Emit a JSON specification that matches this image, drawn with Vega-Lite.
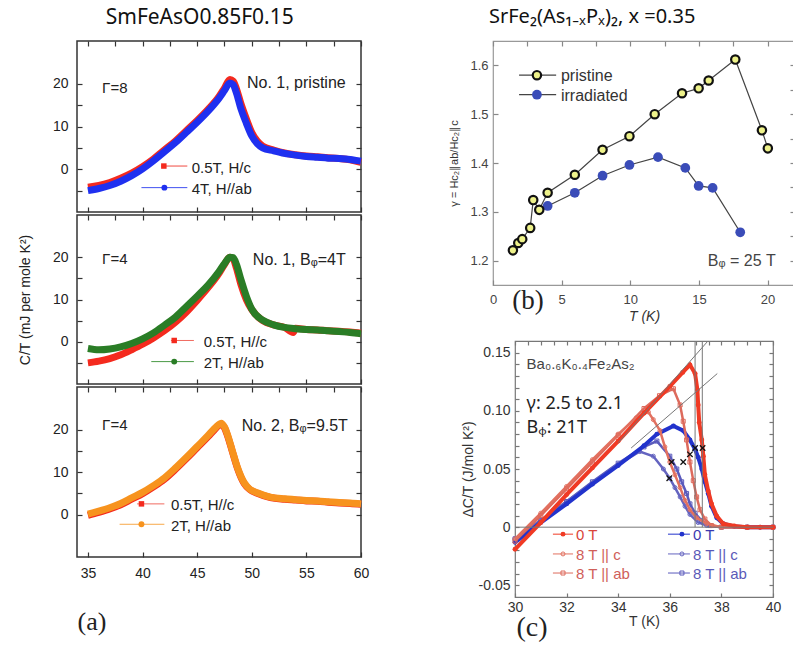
{
"$schema": "https://vega.github.io/schema/vega-lite/v6.json",
"autosize": {"type": "none"},
"padding": {"left": 77, "top": 41, "right": 716, "bottom": 604},
"background": "white",
"config": {
  "axis": {"domain": false, "grid": false, "labelFont": "Liberation Sans", "titleFont": "Liberation Sans", "titleFontWeight": "normal", "labelOverlap": false, "labelFlush": false, "tickSize": 5, "tickWidth": 1.2, "ticks": true},
  "text": {"font": "Liberation Sans"},
  "title": {"font": "Noto Sans", "fontWeight": "normal", "color": "#111"}
},
"datasets": {
  "a1": [
    {"s":"r","T":35,"v":-4.2},{"s":"r","T":36,"v":-3.8},{"s":"r","T":37,"v":-3.1},{"s":"r","T":38,"v":-2.1},{"s":"r","T":39,"v":-0.9},{"s":"r","T":40,"v":0.6},{"s":"r","T":41,"v":2.4},{"s":"r","T":42,"v":4.5},{"s":"r","T":43,"v":6.6},{"s":"r","T":44,"v":9.0},{"s":"r","T":45,"v":11.4},{"s":"r","T":46,"v":14.0},{"s":"r","T":47,"v":17.0},{"s":"r","T":47.5,"v":19.0},{"s":"r","T":48,"v":21.0},{"s":"r","T":48.3,"v":20.6},{"s":"r","T":48.6,"v":18.8},{"s":"r","T":49,"v":15.4},{"s":"r","T":49.5,"v":11.8},{"s":"r","T":50,"v":8.6},{"s":"r","T":50.5,"v":6.6},{"s":"r","T":51,"v":5.4},{"s":"r","T":52,"v":4.5},{"s":"r","T":53,"v":3.8},{"s":"r","T":54,"v":3.4},{"s":"r","T":55,"v":3.1},{"s":"r","T":56,"v":2.9},{"s":"r","T":57,"v":2.7},{"s":"r","T":58,"v":2.5},{"s":"r","T":59,"v":2.2},{"s":"r","T":60,"v":1.6},
    {"s":"b","T":35,"v":-5.0},{"s":"b","T":36,"v":-4.5},{"s":"b","T":37,"v":-3.8},{"s":"b","T":38,"v":-2.8},{"s":"b","T":39,"v":-1.5},{"s":"b","T":40,"v":0.1},{"s":"b","T":41,"v":2.0},{"s":"b","T":42,"v":4.1},{"s":"b","T":43,"v":6.2},{"s":"b","T":44,"v":8.6},{"s":"b","T":45,"v":11.0},{"s":"b","T":46,"v":13.6},{"s":"b","T":47,"v":16.6},{"s":"b","T":47.5,"v":18.4},{"s":"b","T":48,"v":20.2},{"s":"b","T":48.3,"v":19.8},{"s":"b","T":48.6,"v":17.8},{"s":"b","T":49,"v":14.2},{"s":"b","T":49.5,"v":10.8},{"s":"b","T":50,"v":7.8},{"s":"b","T":50.5,"v":6.0},{"s":"b","T":51,"v":5.0},{"s":"b","T":52,"v":4.3},{"s":"b","T":53,"v":3.7},{"s":"b","T":54,"v":3.3},{"s":"b","T":55,"v":3.0},{"s":"b","T":56,"v":2.8},{"s":"b","T":57,"v":2.6},{"s":"b","T":58,"v":2.5},{"s":"b","T":59,"v":2.3},{"s":"b","T":60,"v":1.9}
  ],
  "a2": [
    {"s":"r","T":35,"v":-5.0},{"s":"r","T":36,"v":-4.6},{"s":"r","T":37,"v":-4.0},{"s":"r","T":38,"v":-3.1},{"s":"r","T":39,"v":-1.9},{"s":"r","T":40,"v":-0.6},{"s":"r","T":41,"v":0.9},{"s":"r","T":42,"v":2.6},{"s":"r","T":43,"v":4.6},{"s":"r","T":44,"v":7.0},{"s":"r","T":45,"v":9.8},{"s":"r","T":46,"v":12.8},{"s":"r","T":47,"v":16.2},{"s":"r","T":47.5,"v":18.3},{"s":"r","T":48,"v":20.0},{"s":"r","T":48.3,"v":19.6},{"s":"r","T":48.6,"v":17.4},{"s":"r","T":49,"v":13.6},{"s":"r","T":49.5,"v":10.0},{"s":"r","T":50,"v":7.6},{"s":"r","T":51,"v":5.0},{"s":"r","T":52,"v":4.0},{"s":"r","T":53,"v":3.4},{"s":"r","T":53.8,"v":2.2},{"s":"r","T":54,"v":3.2},{"s":"r","T":55,"v":2.9},{"s":"r","T":56,"v":2.8},{"s":"r","T":57,"v":2.6},{"s":"r","T":58,"v":2.5},{"s":"r","T":59,"v":2.3},{"s":"r","T":60,"v":2.0},
    {"s":"g","T":35,"v":-1.6},{"s":"g","T":36,"v":-1.9},{"s":"g","T":37,"v":-1.7},{"s":"g","T":38,"v":-1.2},{"s":"g","T":39,"v":-0.4},{"s":"g","T":40,"v":0.7},{"s":"g","T":41,"v":2.1},{"s":"g","T":42,"v":3.9},{"s":"g","T":43,"v":5.8},{"s":"g","T":44,"v":8.3},{"s":"g","T":45,"v":10.8},{"s":"g","T":46,"v":13.4},{"s":"g","T":47,"v":16.6},{"s":"g","T":47.5,"v":18.5},{"s":"g","T":48,"v":20.0},{"s":"g","T":48.3,"v":19.9},{"s":"g","T":48.6,"v":18.3},{"s":"g","T":49,"v":14.8},{"s":"g","T":49.5,"v":10.8},{"s":"g","T":50,"v":7.7},{"s":"g","T":51,"v":5.1},{"s":"g","T":52,"v":4.0},{"s":"g","T":53,"v":3.4},{"s":"g","T":54,"v":3.1},{"s":"g","T":55,"v":2.9},{"s":"g","T":56,"v":2.8},{"s":"g","T":57,"v":2.6},{"s":"g","T":58,"v":2.4},{"s":"g","T":59,"v":2.2},{"s":"g","T":60,"v":1.9}
  ],
  "a3": [
    {"s":"r","T":35,"v":-0.2},{"s":"r","T":36,"v":0.5},{"s":"r","T":37,"v":1.3},{"s":"r","T":38,"v":2.3},{"s":"r","T":39,"v":3.6},{"s":"r","T":40,"v":4.9},{"s":"r","T":41,"v":6.5},{"s":"r","T":42,"v":8.3},{"s":"r","T":43,"v":10.6},{"s":"r","T":44,"v":13.1},{"s":"r","T":45,"v":15.7},{"s":"r","T":46,"v":18.3},{"s":"r","T":46.5,"v":19.7},{"s":"r","T":47,"v":21.0},{"s":"r","T":47.2,"v":21.2},{"s":"r","T":47.5,"v":20.4},{"s":"r","T":47.8,"v":18.4},{"s":"r","T":48.2,"v":15.0},{"s":"r","T":48.7,"v":10.8},{"s":"r","T":49.3,"v":7.3},{"s":"r","T":49.8,"v":5.9},{"s":"r","T":50.5,"v":5.0},{"s":"r","T":51.7,"v":4.0},{"s":"r","T":53,"v":3.6},{"s":"r","T":54,"v":3.4},{"s":"r","T":55,"v":3.2},{"s":"r","T":56,"v":3.1},{"s":"r","T":57,"v":2.9},{"s":"r","T":58,"v":2.7},{"s":"r","T":59,"v":2.6},{"s":"r","T":60,"v":2.4},
    {"s":"o","T":35,"v":0.1},{"s":"o","T":36,"v":0.8},{"s":"o","T":37,"v":1.6},{"s":"o","T":38,"v":2.6},{"s":"o","T":39,"v":3.9},{"s":"o","T":40,"v":5.2},{"s":"o","T":41,"v":6.8},{"s":"o","T":42,"v":8.6},{"s":"o","T":43,"v":10.9},{"s":"o","T":44,"v":13.4},{"s":"o","T":45,"v":16.0},{"s":"o","T":46,"v":18.6},{"s":"o","T":46.5,"v":20.0},{"s":"o","T":47,"v":21.2},{"s":"o","T":47.2,"v":21.5},{"s":"o","T":47.5,"v":20.6},{"s":"o","T":47.8,"v":18.6},{"s":"o","T":48.2,"v":15.2},{"s":"o","T":48.7,"v":11.0},{"s":"o","T":49.3,"v":7.5},{"s":"o","T":49.8,"v":6.0},{"s":"o","T":50.5,"v":5.1},{"s":"o","T":51.7,"v":4.1},{"s":"o","T":53,"v":3.7},{"s":"o","T":54,"v":3.5},{"s":"o","T":55,"v":3.3},{"s":"o","T":56,"v":3.2},{"s":"o","T":57,"v":3.0},{"s":"o","T":58,"v":2.8},{"s":"o","T":59,"v":2.7},{"s":"o","T":60,"v":2.5}
  ],
  "b": [
    {"s":"pri","T":1.45,"g":1.221},{"s":"pri","T":1.84,"g":1.236},{"s":"pri","T":2.13,"g":1.244},{"s":"pri","T":2.71,"g":1.267},{"s":"pri","T":2.93,"g":1.324},{"s":"pri","T":3.37,"g":1.304},{"s":"pri","T":3.98,"g":1.339},{"s":"pri","T":5.96,"g":1.376},{"s":"pri","T":7.98,"g":1.427},{"s":"pri","T":9.94,"g":1.455},{"s":"pri","T":11.78,"g":1.5},{"s":"pri","T":13.77,"g":1.543},{"s":"pri","T":14.98,"g":1.553},{"s":"pri","T":15.71,"g":1.569},{"s":"pri","T":17.65,"g":1.612},{"s":"pri","T":19.59,"g":1.467},{"s":"pri","T":20.02,"g":1.43},
    {"s":"irr","T":3.98,"g":1.312},{"s":"irr","T":5.96,"g":1.339},{"s":"irr","T":7.98,"g":1.374},{"s":"irr","T":9.94,"g":1.396},{"s":"irr","T":12.02,"g":1.412},{"s":"irr","T":14.01,"g":1.39},{"s":"irr","T":14.98,"g":1.353},{"s":"irr","T":16.0,"g":1.349},{"s":"irr","T":18.01,"g":1.258}
  ],
  "c": [
    {"s":"b0","T":30,"v":-0.013},{"s":"b0","T":31,"v":0.004},{"s":"b0","T":32,"v":0.02},{"s":"b0","T":33,"v":0.037},{"s":"b0","T":34,"v":0.053},{"s":"b0","T":35,"v":0.07},{"s":"b0","T":35.5,"v":0.08},{"s":"b0","T":36.14,"v":0.087},{"s":"b0","T":36.52,"v":0.083},{"s":"b0","T":36.78,"v":0.075},{"s":"b0","T":36.98,"v":0.067},{"s":"b0","T":37.1,"v":0.06},{"s":"b0","T":37.24,"v":0.05},{"s":"b0","T":37.36,"v":0.039},{"s":"b0","T":37.49,"v":0.029},{"s":"b0","T":37.62,"v":0.018},{"s":"b0","T":37.82,"v":0.008},{"s":"b0","T":38.07,"v":0.003},{"s":"b0","T":38.5,"v":0.0005},{"s":"b0","T":39,"v":0},{"s":"b0","T":39.5,"v":0},{"s":"b0","T":40,"v":0},
    {"s":"bab","T":30,"v":-0.01},{"s":"bab","T":31,"v":0.006},{"s":"bab","T":32,"v":0.022},{"s":"bab","T":33,"v":0.039},{"s":"bab","T":34,"v":0.055},{"s":"bab","T":35,"v":0.069},{"s":"bab","T":35.5,"v":0.074},{"s":"bab","T":36,"v":0.061},{"s":"bab","T":36.27,"v":0.05},{"s":"bab","T":36.46,"v":0.039},{"s":"bab","T":36.65,"v":0.029},{"s":"bab","T":36.78,"v":0.02},{"s":"bab","T":36.98,"v":0.012},{"s":"bab","T":37.24,"v":0.0055},{"s":"bab","T":37.56,"v":0.0014},{"s":"bab","T":38,"v":0},{"s":"bab","T":39,"v":0},{"s":"bab","T":40,"v":0},
    {"s":"bc","T":30,"v":-0.01},{"s":"bc","T":31,"v":0.006},{"s":"bc","T":32,"v":0.022},{"s":"bc","T":33,"v":0.038},{"s":"bc","T":34,"v":0.054},{"s":"bc","T":34.84,"v":0.065},{"s":"bc","T":35.36,"v":0.061},{"s":"bc","T":35.75,"v":0.05},{"s":"bc","T":36,"v":0.042},{"s":"bc","T":36.2,"v":0.034},{"s":"bc","T":36.4,"v":0.026},{"s":"bc","T":36.59,"v":0.018},{"s":"bc","T":36.78,"v":0.011},{"s":"bc","T":37.1,"v":0.004},{"s":"bc","T":37.43,"v":0.0014},{"s":"bc","T":38,"v":0},{"s":"bc","T":39,"v":0},{"s":"bc","T":40,"v":0},
    {"s":"r0","T":30,"v":-0.019},{"s":"r0","T":31,"v":0.004},{"s":"r0","T":32,"v":0.028},{"s":"r0","T":33,"v":0.051},{"s":"r0","T":34,"v":0.074},{"s":"r0","T":35,"v":0.098},{"s":"r0","T":36,"v":0.121},{"s":"r0","T":36.5,"v":0.133},{"s":"r0","T":36.78,"v":0.1395},{"s":"r0","T":36.98,"v":0.132},{"s":"r0","T":37.07,"v":0.118},{"s":"r0","T":37.1,"v":0.105},{"s":"r0","T":37.14,"v":0.09},{"s":"r0","T":37.24,"v":0.075},{"s":"r0","T":37.3,"v":0.061},{"s":"r0","T":37.36,"v":0.045},{"s":"r0","T":37.49,"v":0.031},{"s":"r0","T":37.62,"v":0.02},{"s":"r0","T":37.82,"v":0.0095},{"s":"r0","T":38.07,"v":0.003},{"s":"r0","T":38.5,"v":0.001},{"s":"r0","T":39,"v":0},{"s":"r0","T":39.5,"v":0},{"s":"r0","T":40,"v":0},
    {"s":"rab","T":30,"v":-0.012},{"s":"rab","T":31,"v":0.01},{"s":"rab","T":32,"v":0.033},{"s":"rab","T":33,"v":0.056},{"s":"rab","T":34,"v":0.079},{"s":"rab","T":35,"v":0.102},{"s":"rab","T":35.6,"v":0.113},{"s":"rab","T":36.14,"v":0.119},{"s":"rab","T":36.4,"v":0.105},{"s":"rab","T":36.52,"v":0.091},{"s":"rab","T":36.65,"v":0.075},{"s":"rab","T":36.78,"v":0.056},{"s":"rab","T":36.91,"v":0.04},{"s":"rab","T":37.04,"v":0.026},{"s":"rab","T":37.17,"v":0.015},{"s":"rab","T":37.36,"v":0.007},{"s":"rab","T":37.62,"v":0.0014},{"s":"rab","T":38,"v":0},{"s":"rab","T":39,"v":0},{"s":"rab","T":40,"v":0},
    {"s":"rc","T":30,"v":-0.01},{"s":"rc","T":31,"v":0.012},{"s":"rc","T":32,"v":0.035},{"s":"rc","T":33,"v":0.058},{"s":"rc","T":34,"v":0.08},{"s":"rc","T":34.7,"v":0.094},{"s":"rc","T":35.17,"v":0.099},{"s":"rc","T":35.36,"v":0.0925},{"s":"rc","T":35.62,"v":0.083},{"s":"rc","T":35.81,"v":0.069},{"s":"rc","T":36,"v":0.056},{"s":"rc","T":36.2,"v":0.045},{"s":"rc","T":36.4,"v":0.034},{"s":"rc","T":36.59,"v":0.023},{"s":"rc","T":36.78,"v":0.015},{"s":"rc","T":37.04,"v":0.008},{"s":"rc","T":37.43,"v":0.003},{"s":"rc","T":38,"v":0},{"s":"rc","T":39,"v":0},{"s":"rc","T":40,"v":0}
  ],
  "cl": [
    {"T1":30,"v1":0,"T2":40,"v2":0},
    {"T1":36.98,"v1":0,"T2":36.98,"v2":0.16},
    {"T1":37.26,"v1":0,"T2":37.26,"v2":0.16},
    {"T1":34.0,"v1":0.0725,"T2":37.48,"v2":0.16},
    {"T1":34.5,"v1":0.068,"T2":37.84,"v2":0.132}
  ],
  "cx": [
    {"T":36.07,"v":0.056},{"T":36.52,"v":0.056},{"T":36.78,"v":0.0626},{"T":36.98,"v":0.068},{"T":37.27,"v":0.068},{"T":35.98,"v":0.042}
  ]
},
"bounds": "flush",
"spacing": 416,
"hconcat": [
  {
    "title": {"text": "SmFeAsO0.85F0.15", "fontSize": 21, "anchor": "middle", "offset": 12, "dx": 3},
    "bounds": "flush",
    "spacing": 3,
    "vconcat": [
      {
        "width": 284, "height": 171,
        "view": {"stroke": "#333", "strokeWidth": 1.5},
        "resolve": {"axis": {"x": "independent", "y": "independent"}},
        "layer": [
          {"layer": [
            {"data": {"name": "a1"}, "transform": [{"filter": "datum.s == 'r'"}], "mark": {"type": "line", "color": "#f42a1e", "strokeWidth": 7, "interpolate": "monotone"},
             "encoding": {
              "x": {"field": "T", "type": "quantitative", "scale": {"domain": [35, 60]}, "axis": {"values": [35,37.5,40,42.5,45,47.5,50,52.5,55,57.5,60], "labels": false, "title": null, "tickColor": "#333", "offset": -5}},
              "y": {"field": "v", "type": "quantitative", "scale": {"domain": [-7.2, 25.1]}, "axis": {"values": [0,10,20], "title": null, "labelFontSize": 14, "labelColor": "#222", "labelPadding": 9, "tickColor": "#333", "offset": -5}}}},
            {"data": {"name": "a1"}, "transform": [{"filter": "datum.s == 'b'"}], "mark": {"type": "line", "color": "#1f30f0", "strokeWidth": 7, "interpolate": "monotone"},
             "encoding": {"x": {"field": "T", "type": "quantitative"}, "y": {"field": "v", "type": "quantitative"}}},
            {"data": {"values": [{}]}, "layer": [
              {"mark": {"type": "rule", "color": "#f04a40", "strokeWidth": 1}, "encoding": {"x": {"datum": 41.7}, "x2": {"datum": 44.1}, "y": {"datum": 0.75}}},
              {"mark": {"type": "square", "color": "#f42a1e", "size": 30, "opacity": 1}, "encoding": {"x": {"datum": 41.95}, "y": {"datum": 0.75}}},
              {"mark": {"type": "text", "align": "left", "baseline": "middle", "fontSize": 15, "color": "#222", "text": "0.5T, H/c"}, "encoding": {"x": {"datum": 44.5}, "y": {"datum": 0.4}}},
              {"mark": {"type": "rule", "color": "#4050f0", "strokeWidth": 1}, "encoding": {"x": {"datum": 39.9}, "x2": {"datum": 44.1}, "y": {"datum": -4.3}}},
              {"mark": {"type": "circle", "color": "#1f30f0", "size": 35, "opacity": 1}, "encoding": {"x": {"datum": 42.0}, "y": {"datum": -4.3}}},
              {"mark": {"type": "text", "align": "left", "baseline": "middle", "fontSize": 15, "color": "#222", "text": "4T, H//ab"}, "encoding": {"x": {"datum": 44.5}, "y": {"datum": -4.65}}},
              {"mark": {"type": "text", "align": "left", "baseline": "middle", "fontSize": 15, "color": "#222", "text": "Γ=8"}, "encoding": {"x": {"datum": 36.3}, "y": {"datum": 18.9}}},
              {"mark": {"type": "text", "align": "right", "baseline": "middle", "fontSize": 16, "color": "#222", "text": "No. 1, pristine"}, "encoding": {"x": {"datum": 58.6}, "y": {"datum": 20.2}}}
            ]}
          ]},
          {"data": {"values": [{}]}, "mark": {"type": "point", "opacity": 0}, "encoding": {
            "x": {"datum": 40, "type": "quantitative", "axis": {"orient": "top", "values": [35,37.5,40,42.5,45,47.5,50,52.5,55,57.5,60], "labels": false, "title": null, "tickColor": "#333", "offset": -5}},
            "y": {"datum": 0, "type": "quantitative", "axis": {"orient": "right", "values": [-5,0,5,10,15,20], "labels": false, "title": null, "tickColor": "#333", "offset": -5}}}},
          {"data": {"values": [{}]}, "mark": {"type": "point", "opacity": 0}, "encoding": {
            "y": {"datum": 0, "type": "quantitative", "axis": {"orient": "left", "values": [-5,5,15], "labels": false, "title": null, "tickColor": "#333", "offset": -5}}}}
        ]
      },
      {
        "width": 284, "height": 169,
        "view": {"stroke": "#333", "strokeWidth": 1.5},
        "resolve": {"axis": {"x": "independent", "y": "independent"}},
        "layer": [
          {"layer": [
            {"data": {"name": "a2"}, "transform": [{"filter": "datum.s == 'r'"}], "mark": {"type": "line", "color": "#f42a1e", "strokeWidth": 7, "interpolate": "monotone"},
             "encoding": {
              "x": {"field": "T", "type": "quantitative", "scale": {"domain": [35, 60]}, "axis": {"values": [35,37.5,40,42.5,45,47.5,50,52.5,55,57.5,60], "labels": false, "title": null, "tickColor": "#333", "offset": -5}},
              "y": {"field": "v", "type": "quantitative", "scale": {"domain": [-7.2, 24.3]}, "axis": {"values": [0,10,20], "title": "C/T (mJ per mole K²)", "titleFontSize": 14, "titleColor": "#222", "titlePadding": 20, "labelFontSize": 14, "labelColor": "#222", "labelPadding": 9, "tickColor": "#333", "offset": -5}}}},
            {"data": {"name": "a2"}, "transform": [{"filter": "datum.s == 'g'"}], "mark": {"type": "line", "color": "#2a7d26", "strokeWidth": 7, "interpolate": "monotone"},
             "encoding": {"x": {"field": "T", "type": "quantitative"}, "y": {"field": "v", "type": "quantitative"}}},
            {"data": {"values": [{}]}, "layer": [
              {"mark": {"type": "rule", "color": "#f06a60", "strokeWidth": 1}, "encoding": {"x": {"datum": 42.6}, "x2": {"datum": 44.7}, "y": {"datum": 0.3}}},
              {"mark": {"type": "square", "color": "#f42a1e", "size": 30, "opacity": 1}, "encoding": {"x": {"datum": 42.9}, "y": {"datum": 0.3}}},
              {"mark": {"type": "text", "align": "left", "baseline": "middle", "fontSize": 15, "color": "#222", "text": "0.5T, H//c"}, "encoding": {"x": {"datum": 45.6}, "y": {"datum": -0.05}}},
              {"mark": {"type": "rule", "color": "#4a9a46", "strokeWidth": 1}, "encoding": {"x": {"datum": 40.8}, "x2": {"datum": 44.7}, "y": {"datum": -4.7}}},
              {"mark": {"type": "circle", "color": "#2a7d26", "size": 35, "opacity": 1}, "encoding": {"x": {"datum": 42.9}, "y": {"datum": -4.7}}},
              {"mark": {"type": "text", "align": "left", "baseline": "middle", "fontSize": 15, "color": "#222", "text": "2T, H//ab"}, "encoding": {"x": {"datum": 45.6}, "y": {"datum": -5.05}}},
              {"mark": {"type": "text", "align": "left", "baseline": "middle", "fontSize": 15, "color": "#222", "text": "Γ=4"}, "encoding": {"x": {"datum": 36.3}, "y": {"datum": 19.6}}},
              {"mark": {"type": "text", "align": "right", "baseline": "middle", "fontSize": 16, "color": "#222", "text": "No. 1, Bᵩ=4T"}, "encoding": {"x": {"datum": 58.6}, "y": {"datum": 19.4}}}
            ]}
          ]},
          {"data": {"values": [{}]}, "mark": {"type": "point", "opacity": 0}, "encoding": {
            "x": {"datum": 40, "type": "quantitative", "axis": {"orient": "top", "values": [35,37.5,40,42.5,45,47.5,50,52.5,55,57.5,60], "labels": false, "title": null, "tickColor": "#333", "offset": -5}},
            "y": {"datum": 0, "type": "quantitative", "axis": {"orient": "right", "values": [-5,0,5,10,15,20], "labels": false, "title": null, "tickColor": "#333", "offset": -5}}}},
          {"data": {"values": [{}]}, "mark": {"type": "point", "opacity": 0}, "encoding": {
            "y": {"datum": 0, "type": "quantitative", "axis": {"orient": "left", "values": [-5,5,15], "labels": false, "title": null, "tickColor": "#333", "offset": -5}}}}
        ]
      },
      {
        "width": 284, "height": 170,
        "view": {"stroke": "#333", "strokeWidth": 1.5},
        "resolve": {"axis": {"x": "independent", "y": "independent"}},
        "layer": [
          {"layer": [
            {"data": {"name": "a3"}, "transform": [{"filter": "datum.s == 'r'"}], "mark": {"type": "line", "color": "#f42a1e", "strokeWidth": 7, "interpolate": "monotone"},
             "encoding": {
              "x": {"field": "T", "type": "quantitative", "scale": {"domain": [35, 60]}, "axis": {"values": [35,37.5,40,42.5,45,47.5,50,52.5,55,57.5,60], "labelExpr": "datum.value % 5 == 0 ? datum.label : ''", "labelFontSize": 14, "labelColor": "#222", "labelPadding": 9, "tickColor": "#333", "offset": -5, "title": "(a)", "titleFont": "Liberation Serif", "titleFontSize": 26, "titleColor": "#222", "titleAnchor": "start", "titleAlign": "left", "titlePadding": 28}},
              "y": {"field": "v", "type": "quantitative", "scale": {"domain": [-5, 25.1]}, "axis": {"values": [0,5,10,15,20], "labelExpr": "datum.value % 10 == 0 ? datum.label : ''", "title": null, "labelFontSize": 14, "labelColor": "#222", "labelPadding": 9, "tickColor": "#333", "offset": -5}}}},
            {"data": {"name": "a3"}, "transform": [{"filter": "datum.s == 'o'"}], "mark": {"type": "line", "color": "#f7931e", "strokeWidth": 7, "interpolate": "monotone"},
             "encoding": {"x": {"field": "T", "type": "quantitative"}, "y": {"field": "v", "type": "quantitative"}}},
            {"data": {"values": [{}]}, "layer": [
              {"mark": {"type": "rule", "color": "#f06a60", "strokeWidth": 1}, "encoding": {"x": {"datum": 39.5}, "x2": {"datum": 42.0}, "y": {"datum": 2.5}}},
              {"mark": {"type": "square", "color": "#f42a1e", "size": 30, "opacity": 1}, "encoding": {"x": {"datum": 39.9}, "y": {"datum": 2.5}}},
              {"mark": {"type": "text", "align": "left", "baseline": "middle", "fontSize": 15, "color": "#222", "text": "0.5T, H//c"}, "encoding": {"x": {"datum": 42.6}, "y": {"datum": 2.15}}},
              {"mark": {"type": "rule", "color": "#f7a84a", "strokeWidth": 1}, "encoding": {"x": {"datum": 37.9}, "x2": {"datum": 42.0}, "y": {"datum": -2.3}}},
              {"mark": {"type": "circle", "color": "#f7931e", "size": 35, "opacity": 1}, "encoding": {"x": {"datum": 39.9}, "y": {"datum": -2.3}}},
              {"mark": {"type": "text", "align": "left", "baseline": "middle", "fontSize": 15, "color": "#222", "text": "2T, H//ab"}, "encoding": {"x": {"datum": 42.6}, "y": {"datum": -2.65}}},
              {"mark": {"type": "text", "align": "left", "baseline": "middle", "fontSize": 15, "color": "#222", "text": "Γ=4"}, "encoding": {"x": {"datum": 36.3}, "y": {"datum": 21.0}}},
              {"mark": {"type": "text", "align": "right", "baseline": "middle", "fontSize": 16, "color": "#222", "text": "No. 2, Bᵩ=9.5T"}, "encoding": {"x": {"datum": 58.8}, "y": {"datum": 20.8}}}
            ]}
          ]},
          {"data": {"values": [{}]}, "mark": {"type": "point", "opacity": 0}, "encoding": {
            "x": {"datum": 40, "type": "quantitative", "axis": {"orient": "top", "values": [35,37.5,40,42.5,45,47.5,50,52.5,55,57.5,60], "labels": false, "title": null, "tickColor": "#333", "offset": -5}},
            "y": {"datum": 0, "type": "quantitative", "axis": {"orient": "right", "values": [0,5,10,15,20], "labels": false, "title": null, "tickColor": "#333", "offset": -5}}}}
        ]
      }
    ]
  },
  {
    "bounds": "flush",
    "spacing": 56,
    "center": true,
    "vconcat": [
      {
        "width": 302, "height": 244,
        "view": {"stroke": "#999", "strokeWidth": 1.2},
        "title": {"text": "SrFe₂(As₁₋ₓPₓ)₂, x =0.35", "fontSize": 20, "anchor": "start", "frame": "group", "offset": 13, "dx": -4},
        "resolve": {"axis": {"x": "independent", "y": "independent"}},
        "layer": [
          {"layer": [
            {"data": {"name": "b"}, "mark": {"type": "line", "color": "#444", "strokeWidth": 1.2},
             "encoding": {
              "x": {"field": "T", "type": "quantitative", "scale": {"domain": [0, 22]}, "axis": {"values": [0,2.5,5,7.5,10,12.5,15,17.5,20], "labelExpr": "datum.value % 5 == 0 ? datum.label : ''", "labelFontSize": 13, "labelColor": "#444", "labelPadding": 8, "tickColor": "#888", "offset": -5, "title": "T (K)", "titleFontSize": 14, "titleFontStyle": "italic", "titleColor": "#333", "titlePadding": 3}},
              "y": {"field": "g", "type": "quantitative", "scale": {"domain": [1.175, 1.65]}, "axis": {"values": [1.2,1.25,1.3,1.35,1.4,1.45,1.5,1.55,1.6], "labelExpr": "abs(datum.value*10-round(datum.value*10)) < 0.001 ? format(datum.value, '.1f') : ''", "labelFontSize": 13, "labelColor": "#444", "labelPadding": 5, "tickColor": "#888", "offset": -5, "title": "γ = Hc₂∥ab/Hc₂∥c", "titleFontSize": 11, "titleColor": "#333", "titlePadding": 10}},
              "detail": {"field": "s"}}},
            {"data": {"name": "b"}, "transform": [{"filter": "datum.s == 'irr'"}], "mark": {"type": "circle", "color": "#3a4cb8", "size": 95, "opacity": 1},
             "encoding": {"x": {"field": "T", "type": "quantitative"}, "y": {"field": "g", "type": "quantitative"}}},
            {"data": {"name": "b"}, "transform": [{"filter": "datum.s == 'pri'"}], "mark": {"type": "point", "filled": true, "fill": "#eef28a", "stroke": "#111", "strokeWidth": 2.2, "size": 70, "opacity": 1},
             "encoding": {"x": {"field": "T", "type": "quantitative"}, "y": {"field": "g", "type": "quantitative"}}},
            {"data": {"values": [{}]}, "layer": [
              {"mark": {"type": "rule", "color": "#444", "strokeWidth": 1.2}, "encoding": {"x": {"datum": 1.9}, "x2": {"datum": 4.6}, "y": {"datum": 1.58}}},
              {"mark": {"type": "point", "filled": true, "fill": "#eef28a", "stroke": "#111", "strokeWidth": 2.2, "size": 70, "opacity": 1}, "encoding": {"x": {"datum": 3.2}, "y": {"datum": 1.58}}},
              {"mark": {"type": "text", "align": "left", "baseline": "middle", "fontSize": 16, "color": "#333", "text": "pristine"}, "encoding": {"x": {"datum": 4.95}, "y": {"datum": 1.578}}},
              {"mark": {"type": "rule", "color": "#444", "strokeWidth": 1.2}, "encoding": {"x": {"datum": 1.9}, "x2": {"datum": 4.6}, "y": {"datum": 1.54}}},
              {"mark": {"type": "circle", "color": "#3a4cb8", "size": 95, "opacity": 1}, "encoding": {"x": {"datum": 3.2}, "y": {"datum": 1.54}}},
              {"mark": {"type": "text", "align": "left", "baseline": "middle", "fontSize": 16, "color": "#333", "text": "irradiated"}, "encoding": {"x": {"datum": 4.95}, "y": {"datum": 1.538}}},
              {"mark": {"type": "text", "align": "right", "baseline": "middle", "fontSize": 16, "color": "#444", "text": "Bᵩ = 25 T"}, "encoding": {"x": {"datum": 20.6}, "y": {"datum": 1.2}}},
              {"mark": {"type": "text", "align": "center", "baseline": "middle", "fontSize": 27, "font": "Liberation Serif", "color": "#222", "text": "(b)"}, "encoding": {"x": {"datum": 2.55}, "y": {"datum": 1.118}}}
            ]}
          ]},
          {"data": {"values": [{}]}, "mark": {"type": "point", "opacity": 0}, "encoding": {
            "x": {"datum": 5, "type": "quantitative", "axis": {"orient": "top", "values": [0,2.5,5,7.5,10,12.5,15,17.5,20], "labels": false, "title": null, "tickColor": "#888", "offset": -5}},
            "y": {"datum": 1.3, "type": "quantitative", "axis": {"orient": "right", "values": [1.2,1.25,1.3,1.35,1.4,1.45,1.5,1.55,1.6], "labels": false, "title": null, "tickColor": "#888", "offset": -5}}}}
        ]
      },
      {
        "width": 258, "height": 256,
        "view": {"stroke": "#777", "strokeWidth": 1.2},
        "resolve": {"axis": {"x": "independent", "y": "independent"}},
        "layer": [
          {"layer": [
            {"data": {"name": "c"}, "transform": [{"filter": "datum.s == 'bc' || datum.s == 'bab'"}], "mark": {"type": "line", "strokeWidth": 2.5},
             "encoding": {
              "x": {"field": "T", "type": "quantitative", "scale": {"domain": [30, 40]}, "axis": {"values": [30,30.5,31,31.5,32,32.5,33,33.5,34,34.5,35,35.5,36,36.5,37,37.5,38,38.5,39,39.5,40], "labelExpr": "datum.value % 2 == 0 ? format(datum.value, 'd') : ''", "labelFontSize": 14, "labelColor": "#333", "labelPadding": 3, "tickColor": "#777", "tickSize": 4, "offset": -4, "title": "T (K)", "titleFontSize": 14, "titleColor": "#333", "titlePadding": 0}},
              "y": {"field": "v", "type": "quantitative", "scale": {"domain": [-0.05, 0.16]}, "axis": {"values": [-0.05,0,0.05,0.1,0.15], "labelExpr": "abs(datum.value) < 0.001 ? '0' : replace(format(datum.value, '.2f'), '−', '-')", "labelFontSize": 14, "labelColor": "#333", "labelPadding": 5, "tickColor": "#777", "tickSize": 4, "offset": -4, "title": "ΔC/T (J/mol K²)", "titleFontSize": 14, "titleColor": "#333", "titlePadding": 3}},
              "color": {"field": "s", "type": "nominal", "scale": {"domain": ["b0","bc","bab","r0","rc","rab"], "range": ["#2233cc","#6464c0","#5a5abc","#f03a24","#e2705f","#dd6a5c"]}, "legend": null}}},
            {"data": {"name": "c"}, "transform": [{"filter": "datum.s == 'bc'"}], "mark": {"type": "point", "shape": "circle", "size": 16, "strokeWidth": 1, "opacity": 1}, "encoding": {"x": {"field": "T", "type": "quantitative"}, "y": {"field": "v", "type": "quantitative"}, "color": {"field": "s", "type": "nominal", "legend": null}}},
            {"data": {"name": "c"}, "transform": [{"filter": "datum.s == 'bab'"}], "mark": {"type": "point", "shape": "square", "size": 16, "strokeWidth": 1, "opacity": 1}, "encoding": {"x": {"field": "T", "type": "quantitative"}, "y": {"field": "v", "type": "quantitative"}, "color": {"field": "s", "type": "nominal", "legend": null}}},
            {"data": {"name": "c"}, "transform": [{"filter": "datum.s == 'b0'"}], "mark": {"type": "line", "strokeWidth": 4}, "encoding": {"x": {"field": "T", "type": "quantitative"}, "y": {"field": "v", "type": "quantitative"}, "color": {"field": "s", "type": "nominal", "legend": null}}},
            {"data": {"name": "c"}, "transform": [{"filter": "datum.s == 'b0'"}], "mark": {"type": "circle", "size": 24, "opacity": 1}, "encoding": {"x": {"field": "T", "type": "quantitative"}, "y": {"field": "v", "type": "quantitative"}, "color": {"field": "s", "type": "nominal", "legend": null}}},
            {"data": {"name": "c"}, "transform": [{"filter": "datum.s == 'rc' || datum.s == 'rab'"}], "mark": {"type": "line", "strokeWidth": 2.5}, "encoding": {"x": {"field": "T", "type": "quantitative"}, "y": {"field": "v", "type": "quantitative"}, "color": {"field": "s", "type": "nominal", "legend": null}}},
            {"data": {"name": "c"}, "transform": [{"filter": "datum.s == 'rc'"}], "mark": {"type": "point", "shape": "circle", "size": 16, "strokeWidth": 1, "opacity": 1}, "encoding": {"x": {"field": "T", "type": "quantitative"}, "y": {"field": "v", "type": "quantitative"}, "color": {"field": "s", "type": "nominal", "legend": null}}},
            {"data": {"name": "c"}, "transform": [{"filter": "datum.s == 'rab'"}], "mark": {"type": "point", "shape": "square", "size": 16, "strokeWidth": 1, "opacity": 1}, "encoding": {"x": {"field": "T", "type": "quantitative"}, "y": {"field": "v", "type": "quantitative"}, "color": {"field": "s", "type": "nominal", "legend": null}}},
            {"data": {"name": "c"}, "transform": [{"filter": "datum.s == 'r0'"}], "mark": {"type": "line", "strokeWidth": 4}, "encoding": {"x": {"field": "T", "type": "quantitative"}, "y": {"field": "v", "type": "quantitative"}, "color": {"field": "s", "type": "nominal", "legend": null}}},
            {"data": {"name": "c"}, "transform": [{"filter": "datum.s == 'r0'"}], "mark": {"type": "circle", "size": 24, "opacity": 1}, "encoding": {"x": {"field": "T", "type": "quantitative"}, "y": {"field": "v", "type": "quantitative"}, "color": {"field": "s", "type": "nominal", "legend": null}}},
            {"data": {"name": "cl"}, "mark": {"type": "rule", "color": "#777", "strokeWidth": 1}, "encoding": {"x": {"field": "T1", "type": "quantitative"}, "y": {"field": "v1", "type": "quantitative"}, "x2": {"field": "T2"}, "y2": {"field": "v2"}}},
            {"data": {"name": "cx"}, "mark": {"type": "point", "shape": "M-1,-1L1,1M1,-1L-1,1", "size": 30, "stroke": "#111", "strokeWidth": 1.3, "filled": false, "opacity": 1}, "encoding": {"x": {"field": "T", "type": "quantitative"}, "y": {"field": "v", "type": "quantitative"}}},
            {"data": {"values": [{}]}, "layer": [
              {"mark": {"type": "rule", "color": "#f03a24", "strokeWidth": 1}, "encoding": {"x": {"datum": 31.47}, "x2": {"datum": 32.25}, "y": {"datum": -0.006}}},
              {"mark": {"type": "circle", "color": "#f03a24", "size": 24, "opacity": 1}, "encoding": {"x": {"datum": 31.86}, "y": {"datum": -0.006}}},
              {"mark": {"type": "text", "align": "left", "baseline": "middle", "fontSize": 15, "color": "#d9453a", "text": "0 T"}, "encoding": {"x": {"datum": 32.36}, "y": {"datum": -0.0065}}},
              {"mark": {"type": "rule", "color": "#e2705f", "strokeWidth": 1}, "encoding": {"x": {"datum": 31.47}, "x2": {"datum": 32.25}, "y": {"datum": -0.023}}},
              {"mark": {"type": "point", "shape": "circle", "color": "#e2705f", "size": 16, "strokeWidth": 1, "opacity": 1}, "encoding": {"x": {"datum": 31.86}, "y": {"datum": -0.023}}},
              {"mark": {"type": "text", "align": "left", "baseline": "middle", "fontSize": 15, "color": "#d0605a", "text": "8 T || c"}, "encoding": {"x": {"datum": 32.36}, "y": {"datum": -0.0235}}},
              {"mark": {"type": "rule", "color": "#dd6a5c", "strokeWidth": 1}, "encoding": {"x": {"datum": 31.47}, "x2": {"datum": 32.25}, "y": {"datum": -0.0394}}},
              {"mark": {"type": "point", "shape": "square", "color": "#dd6a5c", "size": 16, "strokeWidth": 1, "opacity": 1}, "encoding": {"x": {"datum": 31.86}, "y": {"datum": -0.0394}}},
              {"mark": {"type": "text", "align": "left", "baseline": "middle", "fontSize": 15, "color": "#d0605a", "text": "8 T || ab"}, "encoding": {"x": {"datum": 32.36}, "y": {"datum": -0.04}}},
              {"mark": {"type": "rule", "color": "#2233cc", "strokeWidth": 1}, "encoding": {"x": {"datum": 35.93}, "x2": {"datum": 36.78}, "y": {"datum": -0.006}}},
              {"mark": {"type": "circle", "color": "#2233cc", "size": 24, "opacity": 1}, "encoding": {"x": {"datum": 36.47}, "y": {"datum": -0.006}}},
              {"mark": {"type": "text", "align": "left", "baseline": "middle", "fontSize": 15, "color": "#3a3ab0", "text": "0 T"}, "encoding": {"x": {"datum": 36.9}, "y": {"datum": -0.0065}}},
              {"mark": {"type": "rule", "color": "#6464c0", "strokeWidth": 1}, "encoding": {"x": {"datum": 35.93}, "x2": {"datum": 36.78}, "y": {"datum": -0.023}}},
              {"mark": {"type": "point", "shape": "circle", "color": "#6464c0", "size": 16, "strokeWidth": 1, "opacity": 1}, "encoding": {"x": {"datum": 36.47}, "y": {"datum": -0.023}}},
              {"mark": {"type": "text", "align": "left", "baseline": "middle", "fontSize": 15, "color": "#5a5ab8", "text": "8 T || c"}, "encoding": {"x": {"datum": 36.9}, "y": {"datum": -0.0235}}},
              {"mark": {"type": "rule", "color": "#5a5abc", "strokeWidth": 1}, "encoding": {"x": {"datum": 35.93}, "x2": {"datum": 36.78}, "y": {"datum": -0.0394}}},
              {"mark": {"type": "point", "shape": "square", "color": "#5a5abc", "size": 16, "strokeWidth": 1, "opacity": 1}, "encoding": {"x": {"datum": 36.47}, "y": {"datum": -0.0394}}},
              {"mark": {"type": "text", "align": "left", "baseline": "middle", "fontSize": 15, "color": "#5a5ab8", "text": "8 T || ab"}, "encoding": {"x": {"datum": 36.9}, "y": {"datum": -0.04}}},
              {"mark": {"type": "text", "align": "left", "baseline": "middle", "fontSize": 15, "color": "#444", "text": "Ba₀.₆K₀.₄Fe₂As₂"}, "encoding": {"x": {"datum": 30.45}, "y": {"datum": 0.1405}}},
              {"mark": {"type": "text", "align": "left", "baseline": "middle", "fontSize": 18, "font": "Noto Sans", "color": "#222", "text": "γ: 2.5 to 2.1"}, "encoding": {"x": {"datum": 30.45}, "y": {"datum": 0.1055}}},
              {"mark": {"type": "text", "align": "left", "baseline": "middle", "fontSize": 18, "font": "Noto Sans", "color": "#222", "text": "Bᵩ: 21T"}, "encoding": {"x": {"datum": 30.45}, "y": {"datum": 0.0855}}},
              {"mark": {"type": "text", "align": "center", "baseline": "middle", "fontSize": 28, "font": "Liberation Serif", "color": "#222", "text": "(c)"}, "encoding": {"x": {"datum": 30.66}, "y": {"datum": -0.087}}}
            ]}
          ]},
          {"data": {"values": [{}]}, "mark": {"type": "point", "opacity": 0}, "encoding": {
            "x": {"datum": 35, "type": "quantitative", "axis": {"orient": "top", "values": [30,30.5,31,31.5,32,32.5,33,33.5,34,34.5,35,35.5,36,36.5,37,37.5,38,38.5,39,39.5,40], "labels": false, "title": null, "tickColor": "#777", "tickSize": 4, "offset": -4}},
            "y": {"datum": 0, "type": "quantitative", "axis": {"orient": "right", "values": [-0.05,-0.04,-0.03,-0.02,-0.01,0,0.01,0.02,0.03,0.04,0.05,0.06,0.07,0.08,0.09,0.1,0.11,0.12,0.13,0.14,0.15], "labels": false, "title": null, "tickColor": "#777", "tickSize": 4, "offset": -4}}}},
          {"data": {"values": [{}]}, "mark": {"type": "point", "opacity": 0}, "encoding": {
            "y": {"datum": 0, "type": "quantitative", "axis": {"orient": "left", "values": [-0.04,-0.03,-0.02,-0.01,0.01,0.02,0.03,0.04,0.06,0.07,0.08,0.09,0.11,0.12,0.13,0.14], "labels": false, "title": null, "tickColor": "#777", "tickSize": 4, "offset": -4}}}}
        ]
      }
    ]
  }
]
}
